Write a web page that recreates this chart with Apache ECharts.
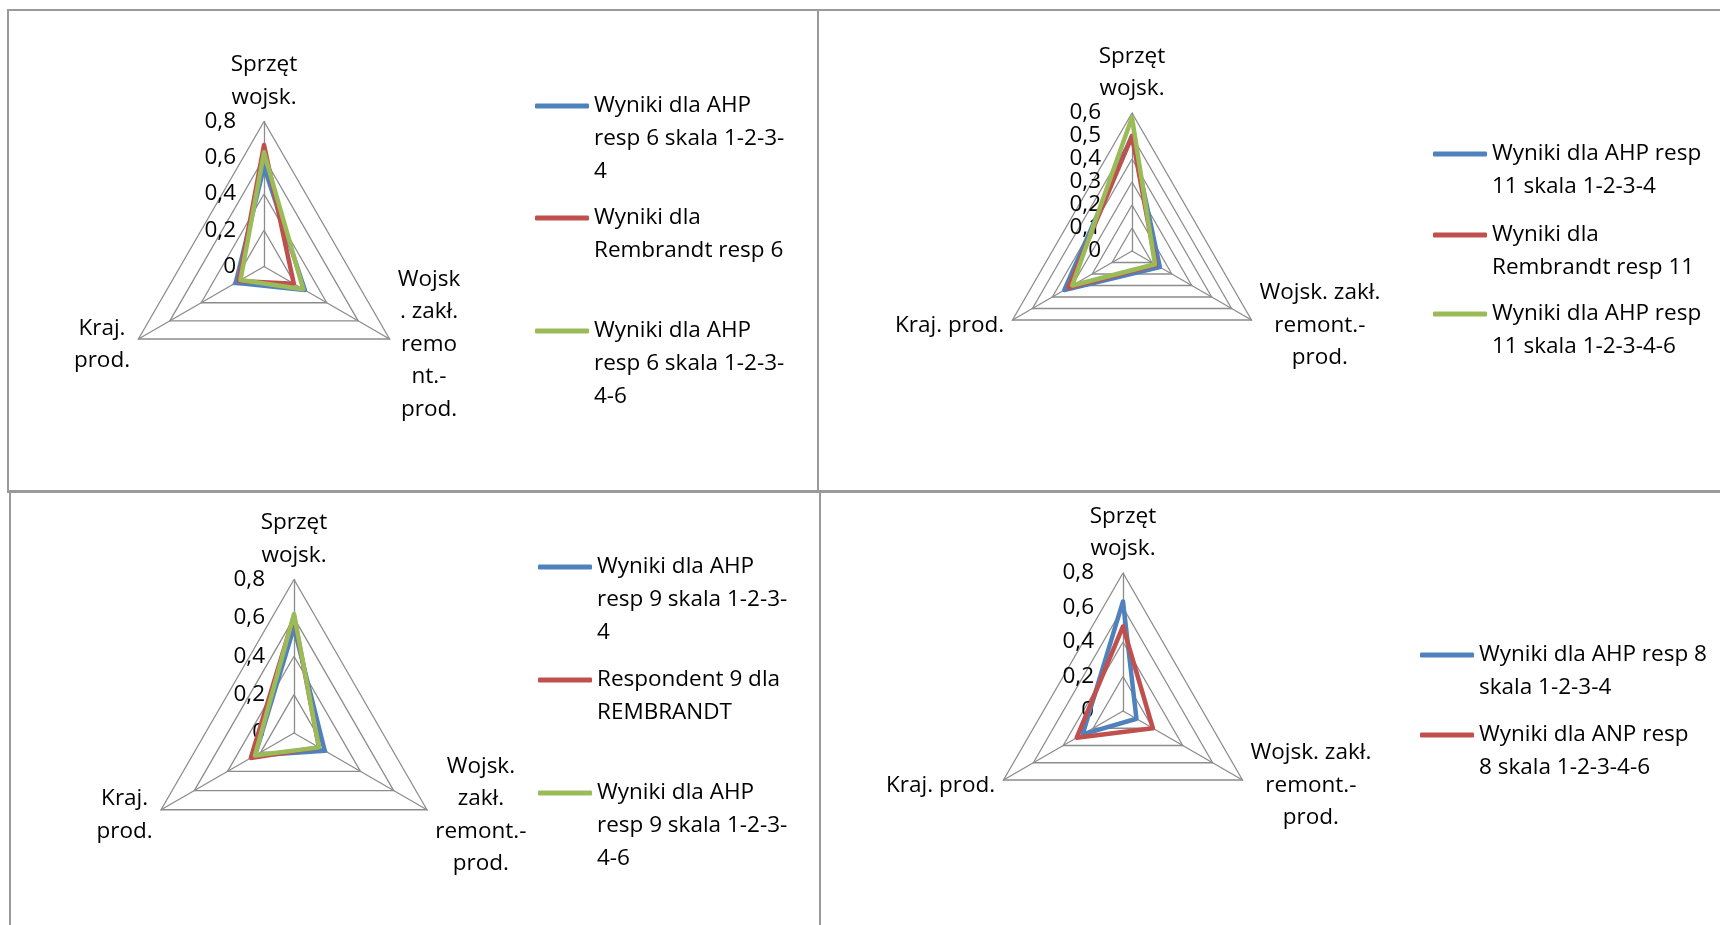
<!DOCTYPE html>
<html>
<head>
<meta charset="utf-8">
<script src="https://cdn.jsdelivr.net/npm/echarts@6/dist/echarts.min.js"></script>
<style>
html,body{margin:0;padding:0;background:#fff;}
#wrap{position:relative;width:1720px;height:925px;overflow:hidden;background:#fff;}
.ln{position:absolute;background:#9a9a9a;}
#chart{position:absolute;left:0;top:0;width:1720px;height:925px;}
</style>
</head>
<body>
<div id="wrap">
  <div class="ln" style="left:7px;top:9px;width:1713px;height:2px"></div>
  <div class="ln" style="left:7px;top:490px;width:1713px;height:3px"></div>
  <div class="ln" style="left:7px;top:9px;width:2px;height:482px"></div>
  <div class="ln" style="left:817px;top:9px;width:2px;height:482px"></div>
  <div class="ln" style="left:9px;top:491px;width:2px;height:434px"></div>
  <div class="ln" style="left:819px;top:491px;width:2px;height:434px"></div>
  <div id="chart"></div>
</div>
<script>
// ---------------- DATA ----------------
// Category order: [Sprzęt wojsk., Wojsk. zakł. remont.-prod., Kraj. prod.]
const categories = ['Sprzęt wojsk.', 'Wojsk. zakł. remont.-prod.', 'Kraj. prod.'];

const axisLabels1 = ['Sprzęt\nwojsk.', 'Wojsk\n. zakł.\nremo\nnt.-\nprod.', 'Kraj.\nprod.'];
const axisLabels2 = ['Sprzęt\nwojsk.', 'Wojsk. zakł.\nremont.-\nprod.', 'Kraj. prod.'];
const axisLabels3 = ['Sprzęt\nwojsk.', 'Wojsk.\nzakł.\nremont.-\nprod.', 'Kraj.\nprod.'];
const axisLabels4 = ['Sprzęt\nwojsk.', 'Wojsk. zakł.\nremont.-\nprod.', 'Kraj. prod.'];

const ticks1 = ['0', '0,2', '0,4', '0,6', '0,8'];
const ticks2 = ['0', '0,1', '0,2', '0,3', '0,4', '0,5', '0,6'];
const ticks3 = ['0', '0,2', '0,4', '0,6', '0,8'];
const ticks4 = ['0', '0,2', '0,4', '0,6', '0,8'];

const names1 = ['Wyniki dla AHP resp 6 skala 1-2-3-4', 'Wyniki dla Rembrandt resp 6', 'Wyniki dla AHP resp 6 skala 1-2-3-4-6'];
const legendText1 = ['Wyniki dla AHP\nresp 6 skala 1-2-3-\n4', 'Wyniki dla\nRembrandt resp 6', 'Wyniki dla AHP\nresp 6 skala 1-2-3-\n4-6'];
const values1 = [
  [0.55, 0.26, 0.18],
  [0.67, 0.19, 0.16],
  [0.63, 0.25, 0.15]
];

const names2 = ['Wyniki dla AHP resp 11 skala 1-2-3-4', 'Wyniki dla Rembrandt resp 11', 'Wyniki dla AHP resp 11 skala 1-2-3-4-6'];
const legendText2 = ['Wyniki dla AHP resp\n11 skala 1-2-3-4', 'Wyniki dla\nRembrandt resp 11', 'Wyniki dla AHP resp\n11 skala 1-2-3-4-6'];
const values2 = [
  [0.50, 0.14, 0.34],
  [0.50, 0.12, 0.32],
  [0.58, 0.115, 0.30]
];

const names3 = ['Wyniki dla AHP resp 9 skala 1-2-3-4', 'Respondent 9 dla REMBRANDT', 'Wyniki dla AHP resp 9 skala 1-2-3-4-6'];
const legendText3 = ['Wyniki dla AHP\nresp 9 skala 1-2-3-\n4', 'Respondent 9 dla\nREMBRANDT', 'Wyniki dla AHP\nresp 9 skala 1-2-3-\n4-6'];
const values3 = [
  [0.55, 0.185, 0.235],
  [0.61, 0.15, 0.26],
  [0.62, 0.15, 0.235]
];

const names4 = ['Wyniki dla AHP resp 8 skala 1-2-3-4', 'Wyniki dla ANP resp 8 skala 1-2-3-4-6'];
const legendText4 = ['Wyniki dla AHP resp 8\nskala 1-2-3-4', 'Wyniki dla ANP resp\n8 skala 1-2-3-4-6'];
const values4 = [
  [0.635, 0.09, 0.27],
  [0.49, 0.20, 0.31]
];

const maxes = [0.8, 0.6, 0.8, 0.8];
const steps = [0.2, 0.1, 0.2, 0.2];

// ---------------- STYLE / LAYOUT ----------------
const COLORS = ['#4F81BD', '#C0504D', '#9BBB59'];
const FONT = '"Open Sans", Lato, sans-serif';
const FS = 22.5;
const LH_NAME = 32.5;
const LH_LEG = 33;
const GRID = '#8c8c8c';
const NAME_GAP = 8;
const SIDE_SPACER = 3;    // nudges side names slightly downwards

const layout = [
  {center: [264, 266.5], radius: 145, labelMargin: 28, legendLeft: 535, legendY: [106, 218, 331]},
  {center: [1132, 251], radius: 138, labelMargin: 31, legendLeft: 1433, legendY: [154, 235, 314]},
  {center: [294, 733], radius: 153.5, labelMargin: 29, legendLeft: 538, legendY: [567, 680, 793]},
  {center: [1123, 711], radius: 138, labelMargin: 29, legendLeft: 1420, legendY: [655, 735]}
];

const chartsData = [
  {axisLabels: axisLabels1, ticks: ticks1, names: names1, legendText: legendText1, values: values1},
  {axisLabels: axisLabels2, ticks: ticks2, names: names2, legendText: legendText2, values: values2},
  {axisLabels: axisLabels3, ticks: ticks3, names: names3, legendText: legendText3, values: values3},
  {axisLabels: axisLabels4, ticks: ticks4, names: names4, legendText: legendText4, values: values4}
];

// ECharts places radar indicators counter-clockwise: top, then left, then right
const ORDER = [0, 2, 1];

const mctx = document.createElement('canvas').getContext('2d');
mctx.font = FS + 'px ' + FONT;
function textW(s) { return Math.ceil(mctx.measureText(s).width) + 2; }

const radars = [], series = [], legends = [];

chartsData.forEach((cd, ci) => {
  const L = layout[ci];
  const rich = {sp: {fontSize: 1, lineHeight: SIDE_SPACER}};
  const labelMap = {};
  categories.forEach((cat, k) => {
    const lines = cd.axisLabels[k].split('\n');
    const w = Math.max.apply(null, lines.map(textW));
    rich['n' + k] = {width: w, align: 'center', fontSize: FS, lineHeight: LH_NAME, fontFamily: FONT, color: '#000'};
    const body = lines.map(l => '{n' + k + '|' + l + '}').join('\n');
    labelMap[cat] = k === 0 ? body : '{sp| }\n' + body;
  });
  const indicator = ORDER.map((k, pos) => {
    const ind = {name: categories[k], min: 0, max: maxes[ci], nameMoveOverlap: false};
    if (pos === 0) {
      ind.axisLabel = {
        show: true, margin: L.labelMargin, color: '#000', fontSize: FS, fontFamily: FONT,
        formatter: (v) => cd.ticks[Math.round(v / steps[ci])]
      };
    }
    return ind;
  });
  radars.push({
    center: L.center,
    radius: L.radius,
    startAngle: 90,
    shape: 'polygon',
    splitNumber: Math.round(maxes[ci] / steps[ci]),
    indicator: indicator,
    nameGap: NAME_GAP,
    axisName: {
      color: '#000', fontSize: FS, fontFamily: FONT, lineHeight: LH_NAME,
      formatter: (v) => labelMap[v],
      rich: rich
    },
    axisLine: {lineStyle: {color: GRID, width: 1.3}},
    splitLine: {lineStyle: {color: GRID, width: 1.3}},
    splitArea: {show: false},
    axisTick: {show: false},
    axisLabel: {show: false}
  });
  series.push({
    type: 'radar',
    radarIndex: ci,
    symbol: 'none',
    silent: true,
    data: cd.values.map((vals, si) => ({
      name: cd.names[si],
      value: ORDER.map(k => vals[k]),
      itemStyle: {color: COLORS[si]},
      lineStyle: {color: COLORS[si], width: 4.5, join: 'round', cap: 'round'}
    }))
  });
  cd.names.forEach((nm, si) => {
    const txt = cd.legendText[si];
    const n = txt.split('\n').length;
    // prepend (n-1) empty lines so the first text line sits level with the icon
    const shown = '\n'.repeat(n - 1) + txt;
    legends.push({
      data: [nm],
      left: L.legendLeft,
      top: L.legendY[si] - (2 * n - 1) * LH_LEG / 2,
      padding: 0,
      orient: 'vertical',
      icon: 'roundRect',
      itemWidth: 54,
      itemHeight: 5,
      selectedMode: false,
      formatter: () => shown,
      textStyle: {color: '#000', fontFamily: FONT, fontSize: FS, lineHeight: LH_LEG}
    });
  });
});

const chart = echarts.init(document.getElementById('chart'), null, {renderer: 'canvas'});
chart.setOption({
  animation: false,
  backgroundColor: 'transparent',
  radar: radars,
  legend: legends,
  series: series
});
</script>
</body>
</html>
